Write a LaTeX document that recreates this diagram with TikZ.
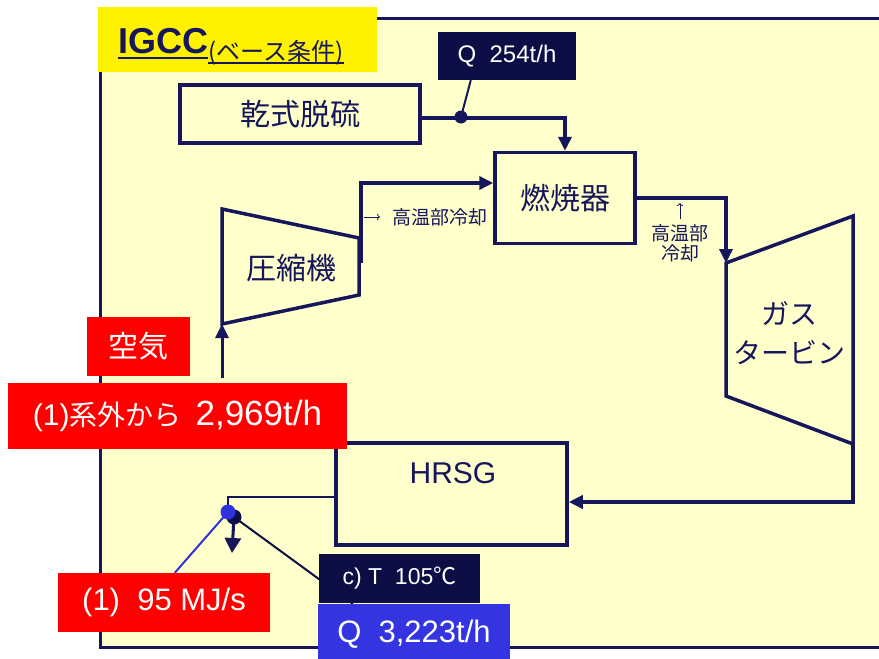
\documentclass[tikz,border=0pt]{standalone}
\usepackage{fontspec}
\setmainfont{Liberation Sans}
\newfontfamily\cjk{Noto Sans CJK JP}
\usetikzlibrary{arrows.meta,calc}
\definecolor{navy}{RGB}{22,22,92}
\definecolor{boxnavy}{RGB}{14,14,70}
\definecolor{panelbg}{RGB}{255,255,204}
\definecolor{qblue}{RGB}{52,52,224}
\definecolor{dotblue}{RGB}{50,50,220}
\newcommand\fs[1]{\fontsize{#1}{#1}\selectfont}
\pgfdeclarelayer{background}
\pgfsetlayers{background,main}
\begin{document}
\begin{tikzpicture}[x=1pt,y=-1pt,
  flow/.style={draw=navy,line width=3.5pt},
  arr/.style={-{Triangle[length=14pt,width=13pt]}},
  blk/.style={draw=navy,line width=3.5pt,fill=panelbg,inner sep=0pt,text=navy},
  darkbox/.style={fill=boxnavy,text=white,inner sep=0pt},
  redbox/.style={fill=red,text=white,inner sep=0pt},
  navytext/.style={text=navy,inner sep=0pt},
  thinarr/.style={draw=navy,line width=0.8pt,-{To[length=3pt]}}]
\useasboundingbox (0,0) rectangle (879,659);

% title
\node[fill=yellow,minimum width=279pt,minimum height=65pt,inner sep=0pt] (title) at (237.5,39.5) {};
\node[navytext,anchor=base west] (igcc) at (118,53) {\fs{36}\bfseries IGCC};
\node[navytext,anchor=base west] (cond) at ([yshift=-7pt]igcc.base east) {\cjk\fs{24}(ベース条件)};
\draw[navy,line width=1.8pt] ([yshift=-5pt]igcc.base west) -- ([yshift=-5pt]igcc.base east);
\draw[navy,line width=1.8pt] ([yshift=-3pt]cond.base west) -- ([yshift=-3pt]cond.base east);

% boxes
\node[darkbox,minimum width=138pt,minimum height=48pt] (q254) at (507,56) {\fs{24}Q\ \ 254t/h};
\node[blk,minimum width=240pt,minimum height=58pt] (desulf) at (300,114) {\cjk\fs{30}乾式脱硫};
\node[circle,fill=navy,minimum size=13pt,inner sep=0pt] (jdot) at (461,117) {};
\node[blk,minimum width=140pt,minimum height=91pt] (comb) at (565,198) {\cjk\fs{30}燃焼器};

% compressor
\coordinate (c1) at (222,209);
\coordinate (c2) at (359,238);
\coordinate (c3) at (359,295);
\coordinate (c4) at (222,324);
\draw[navy,line width=3.5pt,line join=miter] (c1) -- (c2) -- (c3) -- (c4) -- cycle;
\node[navytext] (comptxt) at (291,268) {\cjk\fs{30}圧縮機};

% turbine
\coordinate (t1) at (726,263);
\coordinate (t2) at (853,216);
\coordinate (t3) at (853,444);
\coordinate (t4) at (726,396);
\draw[navy,line width=3.5pt,line join=miter] (t1) -- (t2) -- (t3) -- (t4) -- cycle;
\node[navytext,align=center,font=\cjk\fontsize{28}{39}\selectfont] (turbtxt) at (789,333) {ガス\\タービン};

% HRSG
\node[blk,minimum width=231pt,minimum height=102pt] (hrsg) at (451.5,494) {};
\node[navytext] (hrsgtxt) at (453,473) {\fs{30}HRSG};

% cooling labels
\coordinate (cool1a) at (364,217);
\coordinate (cool1b) at (380,217);
\draw[thinarr] (cool1a) -- (cool1b);
\node[navytext,anchor=west] (cool1) at (392,217) {\cjk\fs{19}高温部冷却};
\coordinate (cool2a) at (680,219);
\coordinate (cool2b) at (680,203);
\draw[thinarr] (cool2a) -- (cool2b);
\node[navytext,align=center,font=\cjk\fontsize{19}{20}\selectfont] (cool2) at (680,243) {高温部\\冷却};

% red / label boxes
\node[redbox,minimum width=103pt,minimum height=59pt] (air) at (138.5,346.5) {\cjk\fs{30}空気};
\node[redbox,minimum width=339pt,minimum height=66pt] (sys) at (177.5,416)
  {{\fs{30}(1)}{\cjk\fs{28}系外から}\hspace{14pt}{\fs{35}2,969t/h}};
\node[redbox,minimum width=212pt,minimum height=59pt] (mj) at (164,602.5) {\fs{31}(1)\ \ 95 MJ/s};
\node[darkbox,minimum width=161pt,minimum height=49pt] (ct) at (399.5,578) {\fs{23}c) T\ \ 105{\cjk ℃}};
\node[fill=qblue,text=white,inner sep=0pt,minimum width=192pt,minimum height=60pt] (q3223) at (414,634) {\fs{31}Q\ \ 3,223t/h};

% outlet dots
\coordinate (ddc) at (234,517);
\coordinate (bdc) at (228,512);
\coordinate (outlet) at (232,553);

\begin{pgfonlayer}{background}
  \fill[panelbg] (100,18) rectangle (879,647);
  \draw[navy,line width=3pt] (879,18) -- (100,18) -- (100,647) -- (879,647);
  \draw[navy,line width=2pt] (jdot.center) -- ($(q254.south west)+(33,0)$);
  \draw[flow,arr] ([yshift=-4pt]desulf.east) -| (comb.north);
  \coordinate (cout) at (361,263);
  \coordinate (ctop) at (361,183);
  \draw[flow,arr] (cout) -- (ctop) -- (ctop -| comb.west);
  \draw[flow,arr] (comb.east) -| (t1);
  \draw[flow,arr] (t3) |- ([yshift=-8pt]hrsg.east);
  \draw[flow,line width=3pt,arr] ([yshift=5pt]c4 |- sys.north) -- (c4);
  \draw[navy,line width=2pt] ([yshift=-3pt]hrsg.west) -| (bdc);
  \draw[dotblue,line width=2pt] (bdc) -- ($(mj.north west)+(117,0)$);
  \draw[boxnavy,line width=2pt] (ddc) -- ($(q3223.north west)+(35,0)$);
  \draw[navy,line width=3pt,-{Triangle[length=15pt,width=16pt]}] (ddc) -- (outlet);
\end{pgfonlayer}
\node[circle,fill=boxnavy,minimum size=15pt,inner sep=0pt] (ddot) at (ddc) {};
\node[circle,fill=dotblue,minimum size=15pt,inner sep=0pt] (bdot) at (bdc) {};
\end{tikzpicture}
\end{document}
